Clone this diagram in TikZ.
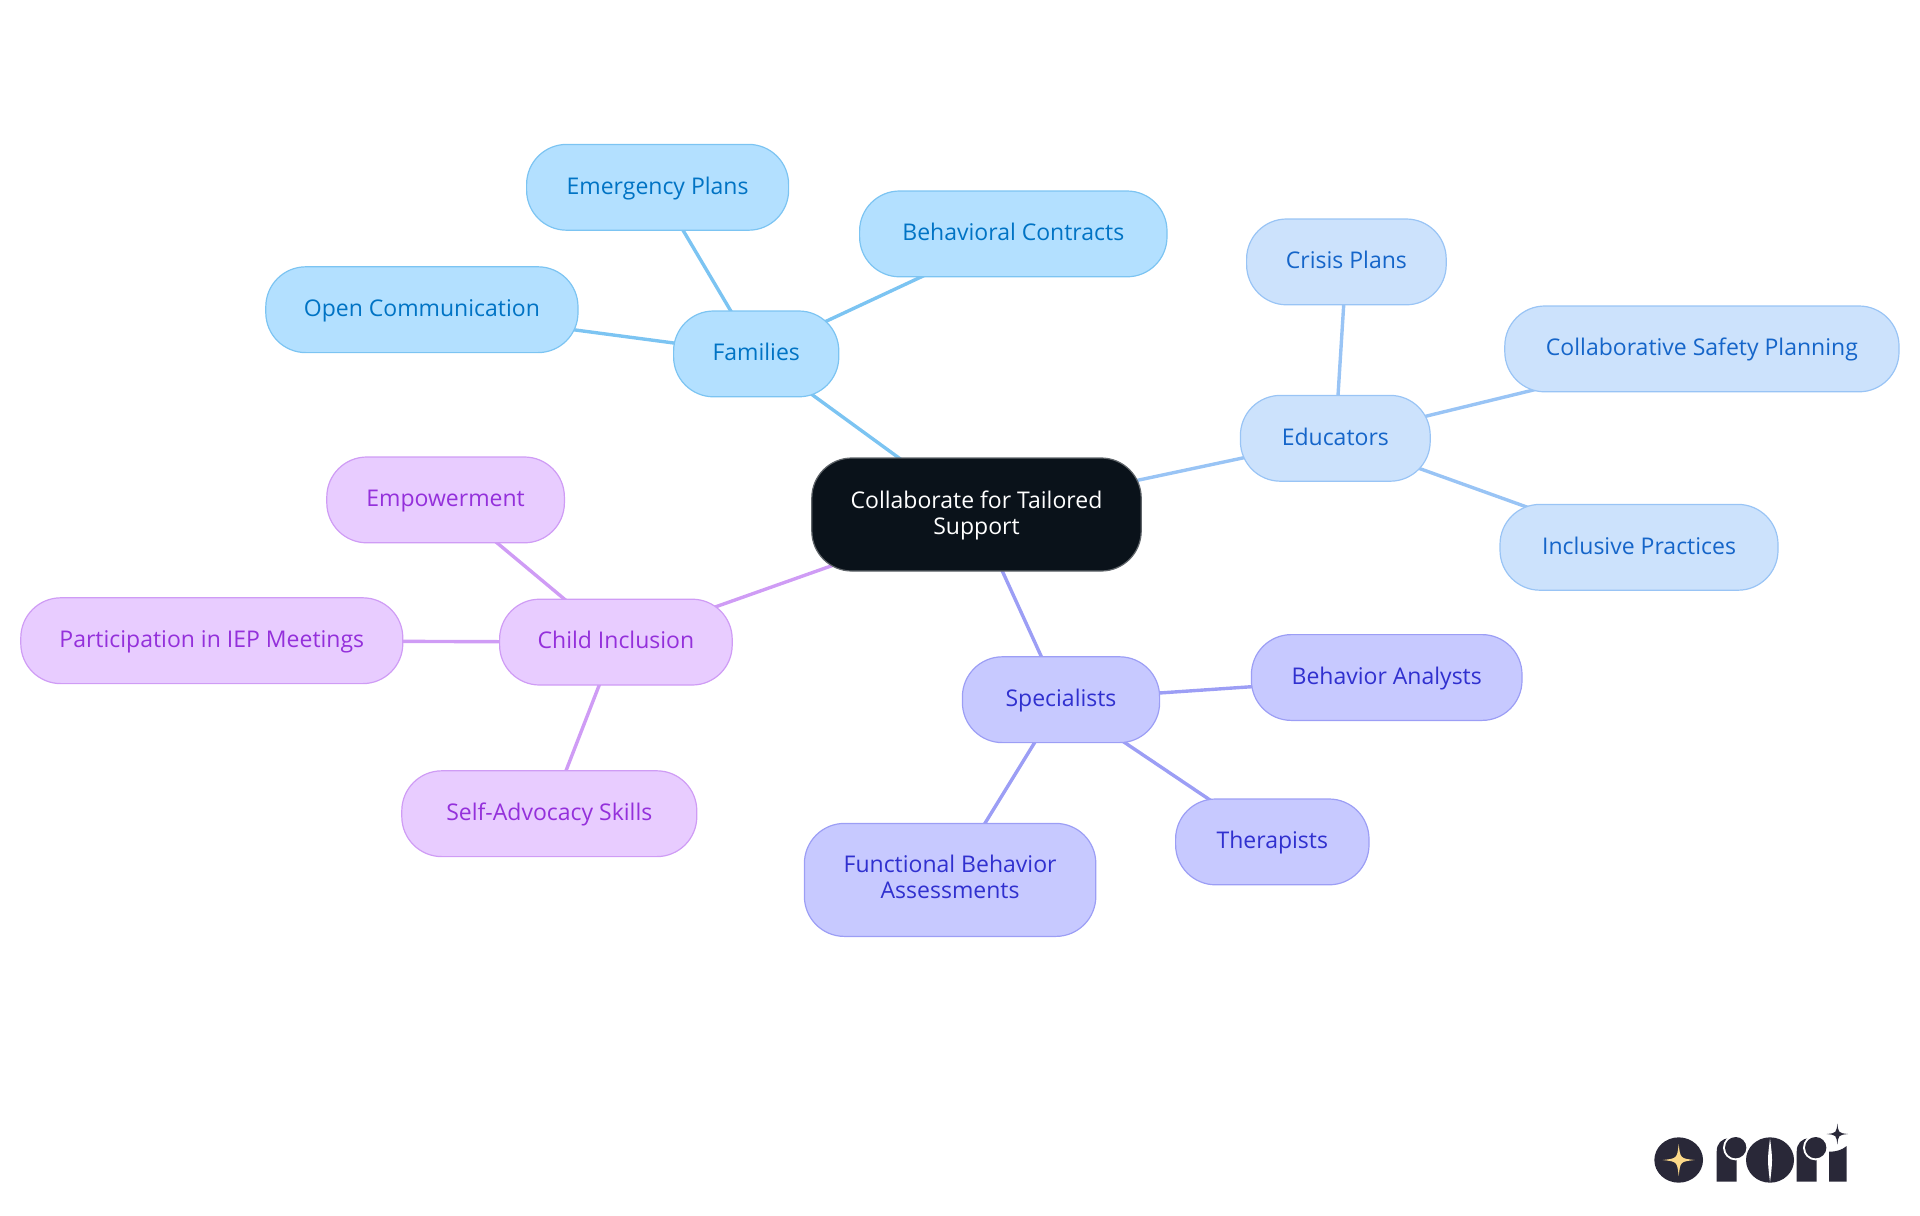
\documentclass[tikz,border=0pt]{standalone}
\usepackage{fontspec}
\setmainfont{Open Sans}
\usetikzlibrary{positioning,backgrounds}
\definecolor{famfill}{HTML}{B3E0FF}
\definecolor{famedge}{HTML}{7CC4F2}
\definecolor{famtext}{HTML}{0073C4}
\definecolor{edufill}{HTML}{CCE2FC}
\definecolor{eduedge}{HTML}{99C4F5}
\definecolor{edutext}{HTML}{1565C9}
\definecolor{spefill}{HTML}{C7C9FF}
\definecolor{speedge}{HTML}{9C9EF5}
\definecolor{spetext}{HTML}{3030CF}
\definecolor{chifill}{HTML}{E8CCFF}
\definecolor{chiedge}{HTML}{CF9CF5}
\definecolor{chitext}{HTML}{9430DB}
\definecolor{rootfill}{HTML}{0A121A}
\definecolor{logodark}{HTML}{292838}
\definecolor{logostar}{HTML}{FCD989}
\newcommand{\spark}[4]{\fill[#4,shift={(#1,#2)}] (0,-#3) .. controls (0.1*#3,-0.1*#3) .. (#3,0) .. controls (0.1*#3,0.1*#3) .. (0,#3) .. controls (-0.1*#3,0.1*#3) .. (-#3,0) .. controls (-0.1*#3,-0.1*#3) .. (0,-#3) -- cycle;}
\begin{document}
\begin{tikzpicture}[
     x=0.5pt, y=-0.5pt,
     font=\fontsize{11.5pt}{13.1pt}\selectfont,
        box/.style = {rectangle, rounded corners=20pt, line width=0.6pt, align=center, inner sep=0pt, outer sep=0pt, minimum height=42.9pt},
    rootbox/.style = {box, text depth=1.8pt, fill=rootfill, draw=rootfill!65!white, text=white, minimum width=164.7pt, minimum height=56.5pt},
     oneline/.style = {box, text height=9pt, text depth=2.3pt},
     fambox/.style = {oneline, fill=famfill, draw=famedge, text=famtext},
     edubox/.style = {oneline, fill=edufill, draw=eduedge, text=edutext},
     spebox/.style = {oneline, fill=spefill, draw=speedge, text=spetext},
     chibox/.style = {oneline, fill=chifill, draw=chiedge, text=chitext},
     link/.style = {line width=1.7pt}
                        ]
\useasboundingbox (0,0) rectangle (1920,1215);
\node (root)[rootbox] at (976.5,514.5) {Collaborate for Tailored\\Support};
\node (families)[fambox, minimum width=82.6pt, above left=30.6pt and -13.5pt of root] {Families};
\node (educators)[edubox, minimum width=94.9pt, above right=-11.6pt and 49.6pt of root] {Educators};
\node (specialists)[spebox, minimum width=98.6pt, below right=42.9pt and -89.4pt of root] {Specialists};
\node (child)[chibox, minimum width=116.3pt, below left=14.1pt and 39.8pt of root] {Child Inclusion};
\node (emergency)[fambox, minimum width=131pt, above left=40.4pt and -57.5pt of families] {Emergency Plans};
\node (contracts)[fambox, minimum width=153.7pt, above right=17.1pt and 10.4pt of families] {Behavioral Contracts};
\node (openc)[fambox, minimum width=156.1pt, above left=-20.8pt and 47.8pt of families] {Open Communication};
\node (crisis)[edubox, minimum width=99.8pt, above right=45.3pt and -91.8pt of educators] {Crisis Plans};
\node (safety)[edubox, minimum width=197.1pt, above right=1.8pt and 37.3pt of educators] {Collaborative Safety Planning};
\node (inclusive)[edubox, minimum width=139pt, below right=11.6pt and 34.9pt of educators] {Inclusive Practices};
\node (analysts)[spebox, minimum width=135.3pt, above right=-31.8pt and 45.9pt of specialists] {Behavior Analysts};
\node (therapists)[spebox, minimum width=96.7pt, below right=28.2pt and 8pt of specialists] {Therapists};
\node (fba)[spebox, text height=, text depth=, minimum width=145.7pt, minimum height=56.5pt, below left=40.4pt and -66.7pt of specialists] {Functional Behavior\\Assessments\vphantom{p}};
\node (empower)[chibox, minimum width=118.8pt, above left=28.2pt and -32.4pt of child] {Empowerment};
\node (iep)[chibox, minimum width=191pt, above left=-42.2pt and 48.4pt of child] {Participation in IEP Meetings};
\node (advocacy)[chibox, minimum width=147.5pt, below left=42.9pt and -98.6pt of child] {Self-Advocacy Skills};
\begin{pgfonlayer}{background}
\draw[link, famedge] (root.center) to (families.center);
\draw[link, famedge] (families.center) to (emergency.center);
\draw[link, famedge] (families.center) to (contracts.center);
\draw[link, famedge] (families.center) to (openc.center);
\draw[link, eduedge] (root.center) to (educators.center);
\draw[link, eduedge] (educators.center) to (crisis.center);
\draw[link, eduedge] (educators.center) to (safety.center);
\draw[link, eduedge] (educators.center) to (inclusive.center);
\draw[link, speedge] (root.center) to (specialists.center);
\draw[link, speedge] (specialists.center) to (analysts.center);
\draw[link, speedge] (specialists.center) to (therapists.center);
\draw[link, speedge] (specialists.center) to (fba.center);
\draw[link, chiedge] (root.center) to (child.center);
\draw[link, chiedge] (child.center) to (empower.center);
\draw[link, chiedge] (child.center) to (iep.center);
\draw[link, chiedge] (child.center) to (advocacy.center);
\end{pgfonlayer}
\begin{scope}[shift={(1620,1100)}, x=0.16667pt, y=-0.16667pt]
\fill[logodark] (176,180) ellipse (73 and 68);
\spark{176}{180}{48}{logostar}
\fill[logodark] (290,245) -- (290,155) .. controls (290,130) and (305,115) .. (328,115) -- (350,115) -- (350,245) -- cycle;
\fill[white] (347,143) circle (38);
\fill[logodark] (347,143) circle (32);
\fill[logodark] (450,180) ellipse (72 and 68);
\fill[white] (450,115) .. controls (442,180) .. (450,247) .. controls (458,180) .. (450,115) -- cycle;
\fill[logodark] (530,245) -- (530,155) .. controls (530,130) and (545,115) .. (568,115) -- (590,115) -- (590,245) -- cycle;
\fill[white] (587,143) circle (38);
\fill[logodark] (587,143) circle (32);
\fill[logodark] (627,245) -- (627,155) .. controls (650,155) and (665,150) .. (680,138) -- (680,245) -- cycle;
\spark{652}{102}{32}{logodark}
\end{scope}
\end{tikzpicture}
\end{document}
